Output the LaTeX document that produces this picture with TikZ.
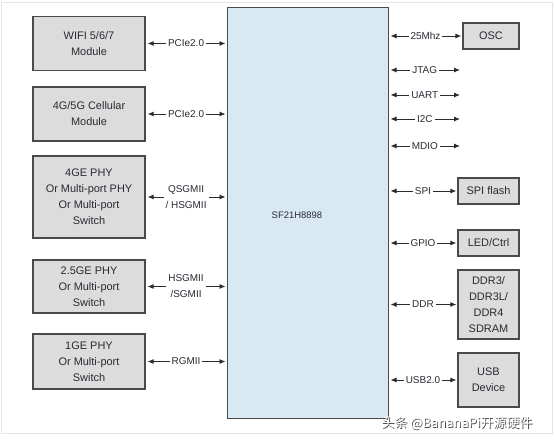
\documentclass[tikz,border=0pt]{standalone}
\usepackage{fontspec}
\setmainfont{Liberation Sans}
\newfontfamily\cjk{Noto Sans CJK SC}
\usetikzlibrary{arrows.meta}
\definecolor{chipfill}{HTML}{D8E9F4}
\definecolor{boxfill}{HTML}{DCDCDC}
\definecolor{edge}{HTML}{4A4A4A}
\definecolor{txt}{HTML}{2A2A33}
\begin{document}
\begin{tikzpicture}[x=1bp,y=-1bp,
  blk/.style={draw=edge, line width=1.2bp, fill=boxfill, align=center, text=txt,
    font=\fontsize{11}{16}\selectfont, inner sep=0pt},
  chipbox/.style={draw=edge, line width=1bp, fill=chipfill, inner sep=0pt},
  bi/.style={{Latex[length=6bp,width=5bp]}-{Latex[length=6bp,width=5bp]}, line width=0.9bp, draw=txt, shorten <=2bp, shorten >=1bp},
  lbl/.style={fill=white, text=txt, font=\fontsize{10}{16}\selectfont, inner sep=2bp, align=center}]
\useasboundingbox (0,0) rectangle (554,440);
\fill[white] (0,0) rectangle (554,440);
\draw[black!10, line width=0.8bp] (1,2) rectangle (552,433);
% chip
\node[chipbox, minimum width=161bp, minimum height=410bp] (chip) at (307.5,213) {};
\node[text=txt, font=\fontsize{9.5}{11}\selectfont] (chipname) at (297,215) {SF21H8898};
% left boxes
\node[blk, minimum width=112bp, minimum height=54bp] (wifi) at (89,43.5) {WIFI 5/6/7\\Module};
\node[blk, minimum width=112bp, minimum height=54bp] (cell) at (89,114) {4G/5G Cellular\\Module};
\node[blk, minimum width=112bp, minimum height=82bp] (ge4) at (89,197) {4GE PHY\\Or Multi-port PHY\\Or Multi-port\\Switch};
\node[blk, minimum width=112bp, minimum height=53bp] (ge25) at (89,286.5) {2.5GE PHY\\Or Multi-port\\Switch};
\node[blk, minimum width=112bp, minimum height=55bp] (ge1) at (89,361.5) {1GE PHY\\Or Multi-port\\Switch};
% right boxes
\node[blk, minimum width=56bp, minimum height=26bp] (osc) at (491,36) {OSC};
\node[blk, minimum width=61bp, minimum height=26bp] (spi) at (488.5,191) {SPI flash};
\node[blk, minimum width=61bp, minimum height=26bp] (led) at (488.5,243) {LED/Ctrl};
\node[blk, minimum width=61bp, minimum height=69bp] (ddr) at (488.5,304.5) {DDR3/\\DDR3L/\\DDR4\\SDRAM};
\node[blk, minimum width=61bp, minimum height=54bp] (usb) at (488.5,380) {USB\\Device};
% free ends
\coordinate (jtag) at (461,70);
\coordinate (uart) at (461,95);
\coordinate (iic) at (461,119);
\coordinate (mdio) at (461,146);
% left connectors
\draw[bi] (wifi.east) -- (wifi.east -| chip.west) node[midway, lbl] {PCIe2.0};
\draw[bi] (cell.east) -- (cell.east -| chip.west) node[midway, lbl] {PCIe2.0};
\draw[bi] (ge4.east) -- (ge4.east -| chip.west) node[midway, lbl] {QSGMII\\/ HSGMII};
\draw[bi] (ge25.east) -- (ge25.east -| chip.west) node[midway, lbl] {HSGMII\\/SGMII};
\draw[bi] (ge1.east) -- (ge1.east -| chip.west) node[midway, lbl] {RGMII};
% right connectors
\draw[bi] (chip.east |- osc.west) -- (osc.west) node[midway, lbl] {25Mhz};
\draw[bi] (chip.east |- jtag) -- (jtag) node[midway, lbl] {JTAG};
\draw[bi] (chip.east |- uart) -- (uart) node[midway, lbl] {UART};
\draw[bi] (chip.east |- iic) -- (iic) node[midway, lbl] {I2C};
\draw[bi] (chip.east |- mdio) -- (mdio) node[midway, lbl] {MDIO};
\draw[bi] (chip.east |- spi.west) -- (spi.west) node[midway, lbl] {SPI};
\draw[bi] (chip.east |- led.west) -- (led.west) node[midway, lbl] {GPIO};
\draw[bi] (chip.east |- ddr.west) -- (ddr.west) node[midway, lbl] {DDR};
\draw[bi] (chip.east |- usb.west) -- (usb.west) node[midway, lbl] {USB2.0};
% watermark
\node[text=black!75, font=\cjk\fontsize{13}{15}\selectfont, inner sep=0pt] (wmshadow) at (457.8,423.8) {头条 @BananaPi开源硬件};
\node[text=white, font=\cjk\fontsize{13}{15}\selectfont, inner sep=0pt] (wm) at (457,423) {头条 @BananaPi开源硬件};
\end{tikzpicture}
\end{document}
